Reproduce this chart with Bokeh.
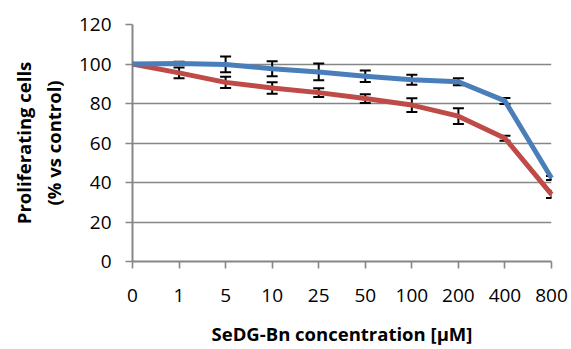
from bokeh.plotting import figure
from bokeh.models import Range1d, FixedTicker, ColumnDataSource, Whisker, TeeHead
from bokeh.embed import file_html
from bokeh.resources import INLINE

concentrations = ["0", "1", "5", "10", "25", "50", "100", "200", "400", "800"]
blue_values = [100, 100.3, 99.8, 97.6, 96.0, 93.8, 92.0, 91.0, 81.3, 42.3]
blue_errors = [0, 0.8, 4.0, 3.8, 4.2, 2.9, 2.5, 1.8, 1.5, 1.0]
red_values = [100, 95.5, 90.7, 87.9, 85.5, 82.5, 79.2, 73.6, 62.4, 34.0]
red_errors = [0, 2.7, 2.9, 2.9, 2.2, 2.2, 3.5, 4.0, 1.3, 1.8]
y_ticks = [0, 20, 40, 60, 80, 100, 120]
x_title = "SeDG-Bn concentration [µM]"
y_title = "Proliferating cells\n(% vs control)"

x_idx = list(range(len(concentrations)))

FONT = "Open Sans"
GRID = "#868686"
BLUE = "#4a7ebb"
RED = "#be4b48"

p = figure(width=571, height=349, output_backend="svg", toolbar_location=None,
           x_range=Range1d(0, len(concentrations) - 1), y_range=Range1d(0, 120),
           min_border_left=132, min_border_right=20, min_border_top=24, min_border_bottom=88)
p.outline_line_color = None
p.background_fill_color = "white"
p.border_fill_color = "white"

p.xgrid.grid_line_color = None
p.ygrid.ticker = FixedTicker(ticks=y_ticks[1:])
p.ygrid.grid_line_color = GRID
p.ygrid.grid_line_width = 1.6

p.xaxis.ticker = FixedTicker(ticks=x_idx)
p.xaxis.major_label_overrides = {i: c for i, c in zip(x_idx, concentrations)}
p.yaxis.ticker = FixedTicker(ticks=y_ticks)

for ax in (p.xaxis, p.yaxis):
    ax.axis_line_color = GRID
    ax.axis_line_width = 2
    ax.major_tick_line_color = GRID
    ax.major_tick_line_width = 1.6
    ax.major_tick_out = 7
    ax.major_tick_in = 0
    ax.minor_tick_line_color = None
    ax.major_label_text_font = FONT
    ax.major_label_text_font_size = "19px"
    ax.major_label_text_color = "black"
    ax.axis_label_text_font = FONT
    ax.axis_label_text_font_style = "bold"
    ax.axis_label_text_font_size = "18.5px"
    ax.axis_label_text_color = "black"

p.xaxis.major_label_standoff = 20
p.xaxis.axis_label = x_title
p.xaxis.axis_label_standoff = 16
p.yaxis.major_label_standoff = 14
p.yaxis.axis_label = y_title
p.yaxis.axis_label_standoff = 10

def add_series(values, errors, color):
    src = ColumnDataSource(data=dict(
        x=x_idx, y=values,
        upper=[v + e for v, e in zip(values, errors)],
        lower=[v - e for v, e in zip(values, errors)],
    ))
    w = Whisker(base="x", upper="upper", lower="lower", source=src, dimension="height",
                line_color="black", line_width=2,
                upper_head=TeeHead(size=11, line_color="black", line_width=2),
                lower_head=TeeHead(size=11, line_color="black", line_width=2),
                level="glyph")
    p.add_layout(w)
    p.line("x", "y", source=src, line_color=color, line_width=5, line_join="round",
           level="overlay")

add_series(red_values, red_errors, RED)
add_series(blue_values, blue_errors, BLUE)

open("out.html", "w").write(file_html(p, INLINE))
